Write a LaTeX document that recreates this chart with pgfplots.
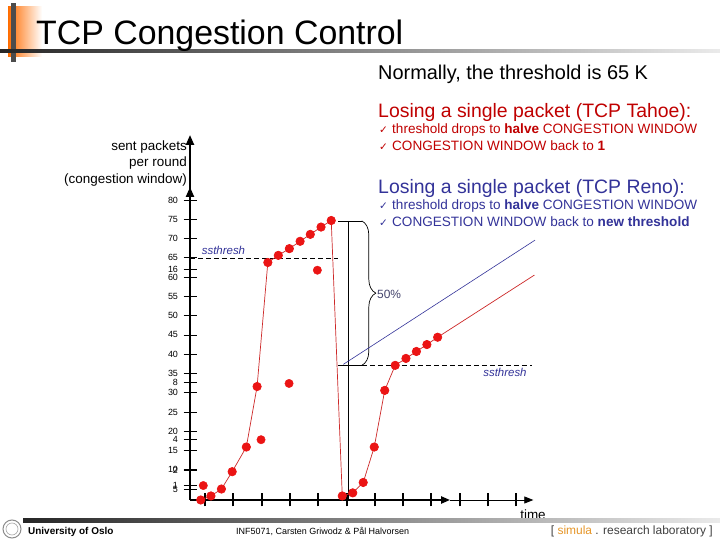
\documentclass[border=0pt]{standalone}
\usepackage{fontspec}
\setmainfont{Liberation Sans}
\newfontfamily\djv{DejaVu Sans}
\usepackage{pgfplots}
\pgfplotsset{compat=1.18}
\usetikzlibrary{arrows.meta,decorations.pathreplacing,shadings}
\definecolor{tahoe}{RGB}{192,0,0}
\definecolor{reno}{RGB}{51,51,153}
\definecolor{dotred}{RGB}{235,20,20}
\definecolor{linered}{RGB}{205,40,40}
\definecolor{simorange}{RGB}{230,150,40}
\definecolor{slate}{RGB}{70,70,110}
\newcommand{\ck}{\makebox[13bp][l]{\djv\fontsize{10.5}{10.5}\selectfont ✓}}
\begin{document}
\begin{tikzpicture}[x=1bp,y=1bp]
\path[fill=white] (0,0) rectangle (720,540);
% ---- header decoration
\shade[left color=orange!85!red, right color=white] (8,483) rectangle (42,533);
\fill[black!70] (11,478) rectangle (16,537);
\shade[left color=black!85, right color=black!8] (0,487) rectangle (720,490);
\node[anchor=base west, inner sep=0, font=\fontsize{34}{34}\selectfont] at (36,495) {TCP Congestion Control};
% ---- right-hand text
\node[anchor=base west, inner sep=0, font=\fontsize{20}{20}\selectfont] at (378,460) {Normally, the threshold is 65 K};
\node[anchor=base west, inner sep=0, font=\fontsize{19.5}{19.5}\selectfont, text=tahoe] at (378,422) {Losing a single packet (TCP Tahoe):};
\node[anchor=base west, inner sep=0, font=\fontsize{13.6}{13.6}\selectfont, text=tahoe] at (379,406) {\ck threshold drops to \textbf{halve} CONGESTION WINDOW};
\node[anchor=base west, inner sep=0, font=\fontsize{13.6}{13.6}\selectfont, text=tahoe] at (379,389) {\ck CONGESTION WINDOW back to \textbf{1}};
\node[anchor=base west, inner sep=0, font=\fontsize{19.5}{19.5}\selectfont, text=reno] at (378,346) {Losing a single packet (TCP Reno):};
\node[anchor=base west, inner sep=0, font=\fontsize{13.6}{13.6}\selectfont, text=reno] at (379,330) {\ck threshold drops to \textbf{halve} CONGESTION WINDOW};
\node[anchor=base west, inner sep=0, font=\fontsize{13.6}{13.6}\selectfont, text=reno] at (379,313) {\ck CONGESTION WINDOW back to \textbf{new threshold}};
% ---- y-axis label
\node[anchor=base east, inner sep=0, font=\fontsize{13.5}{13.5}\selectfont] at (187,389) {sent packets};
\node[anchor=base east, inner sep=0, font=\fontsize{13.5}{13.5}\selectfont] at (187,373) {per round};
\node[anchor=base east, inner sep=0, font=\fontsize{13.5}{13.5}\selectfont] at (187,356) {(congestion window)};
% ---- chart
\begin{axis}[
  at={(190bp,40bp)}, anchor=south west,
  scale only axis, width=343.3bp, height=365bp,
  xmin=0.47, xmax=12.6, ymin=2.15, ymax=96.9,
  axis lines=left,
  x axis line style={draw=none},
  y axis line style={line width=2.2bp, -{Triangle[length=10bp,width=8bp]}},
  xtick={1,...,9}, xticklabels={},
  ytick={5,10,...,80},
  tick align=center, major tick length=13bp,
  xtick style={line width=2bp, black},
  ytick style={line width=0.8bp, black},
  extra x ticks={10,11,12}, extra x tick labels={},
  extra x tick style={tick style={line width=0.8bp, black}},
  extra y ticks={6,9.9,17.9,32.6,62},
  extra y tick labels={1,2,4,8,16},
  extra y tick style={tick style={line width=2.4bp, black}},
  yticklabel style={font=\fontsize{9}{9}\selectfont, xshift=-2bp},
  /pgf/number format/assume math mode=true,
  clip=false,
]
% x axis, thick then thin
\draw[line width=2.2bp, -{Triangle[length=9bp,width=7bp]}] (axis cs:0.47,2.15) -- (axis cs:9.66,2.15);
\draw[line width=0.8bp, -{Triangle[length=9bp,width=7bp]}] (axis cs:9.66,2.15) -- (axis cs:12.6,2.15);
\draw[line width=2.2bp, -{Triangle[length=10bp,width=8bp]}] (axis cs:0.47,79) -- (axis cs:0.47,83.4);
% annotations
\draw[line width=0.7bp, dash pattern=on 5bp off 3bp] (axis cs:0.47,64.9) -- (axis cs:5.69,64.9);
\node[anchor=base west, inner sep=0, font=\itshape\fontsize{11.5}{11.5}\selectfont, text=reno] at (axis cs:0.88,66.0) {ssthresh};
\draw[line width=0.7bp] (axis cs:6.08,74.6) -- (axis cs:6.08,2.15);
\draw[line width=0.7bp] (axis cs:5.70,74.6) -- (axis cs:6.54,74.6);
\draw[line width=0.7bp] (axis cs:5.70,37.1) -- (axis cs:6.54,37.1);
\draw[line width=0.7bp, dash pattern=on 5bp off 3bp] (axis cs:6.54,37.1) -- (axis cs:12.55,37.1);
\draw[line width=0.7bp, decorate, decoration={brace, amplitude=14bp}] (axis cs:6.54,74.6) -- (axis cs:6.54,37.1);
\node[anchor=base east, inner sep=0, font=\itshape\fontsize{11.5}{11.5}\selectfont, text=reno] at (axis cs:12.37,34.3) {ssthresh};
% lines
\addplot[reno, line width=0.6bp] coordinates {(5.887,37.36) (12.66,69.6)};
\addplot[linered, line width=0.7bp] coordinates {(9.22,44.4) (12.64,60.54)};
\addplot[linered, line width=0.7bp, mark=*, mark size=4.2bp, mark options={fill=dotred, draw=dotred}] coordinates {
(0.85,2.15) (1.21,3.2) (1.58,5.0) (1.96,9.5) (2.46,15.9) (2.84,31.6) (3.22,63.8)
(3.59,65.65) (3.98,67.4) (4.36,69.3) (4.72,71.1) (5.10,73.0) (5.46,74.7)
(5.85,3.2) (6.22,4.0) (6.59,6.7) (6.98,15.9) (7.35,30.6) (7.72,37.1)
(8.10,38.9) (8.47,40.7) (8.84,42.5) (9.22,44.4)};
\addplot[only marks, mark=*, mark size=4.2bp, mark options={fill=dotred, draw=dotred}] coordinates {
(0.94,5.9) (2.98,17.8) (3.97,32.4) (4.97,61.8)};
\end{axis}
\node[anchor=west, inner sep=0, font=\fontsize{12}{12}\selectfont, text=slate] at (377,246) {50\%};
\node[anchor=base, inner sep=0, font=\fontsize{13.5}{13.5}\selectfont] at (533,20) {time};
% ---- footer
\shade[left color=black!85, right color=black!8] (23,17) rectangle (720,21);
\draw[black!45, line width=1bp] (12,11) circle (9);
\draw[black!35, line width=0.6bp] (12,11) circle (6);
\node[anchor=base west, inner sep=0, font=\bfseries\fontsize{10}{10}\selectfont] at (28,5) {University of Oslo};
\node[anchor=base west, inner sep=0, font=\fontsize{9}{9}\selectfont] at (236,5) {INF5071, Carsten Griwodz \& Pål Halvorsen};
\node[anchor=base east, inner sep=0, font=\fontsize{12}{12}\selectfont, text=black!75] at (713,5) {[ \textcolor{simorange}{simula} . research laboratory ]};
\end{tikzpicture}
\end{document}
